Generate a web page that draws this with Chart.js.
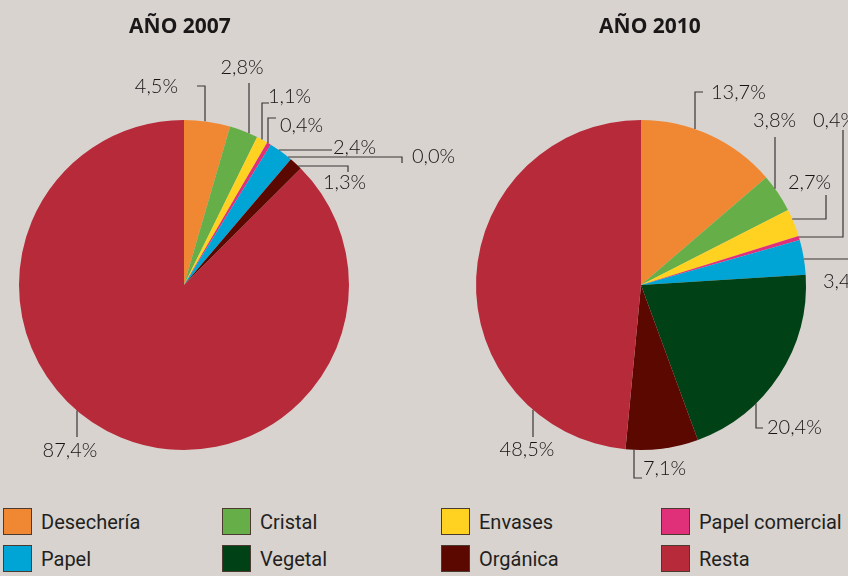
<!DOCTYPE html>
<html lang="es">
<head>
<meta charset="utf-8">
<script src="https://cdn.jsdelivr.net/npm/chart.js@4.4.1/dist/chart.umd.min.js"></script>
<style>
  html, body { margin: 0; padding: 0; background: #d8d3cf; }
  #wrap { position: relative; width: 848px; height: 576px; overflow: hidden; }
  #c2007 { position: absolute; left: 0; top: 0; }
  #c2010 { position: absolute; left: 420px; top: 0; }
  .item { position: absolute; height: 27px; display: flex; align-items: center;
          font: 20px 'Liberation Sans Narrow', 'Roboto', sans-serif; color: #231f20; }
  .box { width: 29px; height: 27px; box-sizing: border-box; border: 1px solid #4a3a30; margin-right: 9px; }
</style>
</head>
<body>
<div id="wrap">
  <canvas id="c2007" width="470" height="490"></canvas>
  <canvas id="c2010" width="428" height="490"></canvas>
  <div id="legend"></div>
</div>
<script>
// categories and values
const categories = ['Desechería', 'Cristal', 'Envases', 'Papel comercial', 'Papel', 'Vegetal', 'Orgánica', 'Resta'];
const values2007 = [4.5, 2.8, 1.1, 0.4, 2.4, 0.0, 1.3, 87.4];
const values2010 = [13.7, 3.8, 2.7, 0.4, 3.4, 20.4, 7.1, 48.5];
const colors = ['#f08833', '#66ae47', '#ffd121', '#e0307a', '#00a5d6', '#004116', '#5a0800', '#b72a3a'];

// leader lines: points relative to the pie centre, last segment runs to the rim ('v' or 'h')
const leaders2007 = [
  { path: [[13, -199], [21, -199]], edge: 'v', text: [-6, -198], align: 'right' },
  { path: [[65, -202]], edge: 'v', text: [58, -217], align: 'center' },
  { path: [[85, -182], [78, -182]], edge: 'v', text: [84, -188], align: 'left' },
  { path: [[92, -167], [84, -167]], edge: 'v', text: [96, -159], align: 'left' },
  { path: [[148, -135]], edge: 'h', text: [149, -137], align: 'left' },
  { path: [[218, -122], [218, -128]], edge: 'h', text: [228, -128], align: 'left' },
  { path: [[164, -113], [164, -119]], edge: 'h', text: [139, -102], align: 'left' },
  { path: [[-107, 152]], edge: 'v', text: [-114, 166], align: 'center' },
];
const leaders2010 = [
  { path: [[62, -193], [54, -193]], edge: 'v', text: [70, -192], align: 'left' },
  { path: [[134, -148]], edge: 'v', text: [112, -164], align: 'left' },
  { path: [[185, -90], [185, -66]], edge: 'h', text: [147, -102], align: 'left' },
  { path: [[202, -155], [202, -48]], edge: 'h', text: [172, -164], align: 'left' },
  { path: [[230, -26]], edge: 'h', text: [182, -3], align: 'left' },
  { path: [[122, 143], [115, 143]], edge: 'v', text: [126, 143], align: 'left' },
  { path: [[1, 193], [-7, 193]], edge: 'v', text: [2, 184], align: 'left' },
  { path: [[-108, 152]], edge: 'v', text: [-114, 165], align: 'center' },
];

const fmt = v => v.toFixed(1).replace('.', ',') + '%';

const leaderPlugin = {
  id: 'leaders',
  afterDraw(chart, args, opts) {
    const arcs = chart.getDatasetMeta(0).data;
    if (!arcs.length) return;
    const { x: cx, y: cy, outerRadius: r } = arcs[0];
    const ctx = chart.ctx;
    const vals = chart.data.datasets[0].data;
    ctx.save();

    // title above the pie
    ctx.fillStyle = '#1a1718';
    ctx.font = "bold 21px 'Open Sans', sans-serif";
    ctx.textAlign = 'center';
    ctx.textBaseline = 'middle';
    ctx.fillText(opts.title, cx + opts.titleDx, 27);

    ctx.strokeStyle = '#3a3636';
    ctx.lineWidth = 1.2;
    ctx.font = "300 20px 'Lato', sans-serif";
    ctx.fillStyle = '#161314';
    opts.layout.forEach((l, i) => {
      const last = l.path[l.path.length - 1];
      let ex, ey;
      if (l.edge === 'v') {
        ex = last[0];
        ey = Math.sign(last[1]) * Math.sqrt(Math.max(r * r - ex * ex, 0));
      } else {
        ey = last[1];
        ex = Math.sign(last[0]) * Math.sqrt(Math.max(r * r - ey * ey, 0));
      }
      ctx.beginPath();
      ctx.moveTo(cx + l.path[0][0], cy + l.path[0][1]);
      l.path.slice(1).forEach(p => ctx.lineTo(cx + p[0], cy + p[1]));
      ctx.lineTo(cx + ex, cy + ey);
      ctx.stroke();
      ctx.textAlign = l.align;
      ctx.fillText(fmt(vals[i]), cx + l.text[0], cy + l.text[1]);
    });
    ctx.restore();
  }
};

function makePie(id, values, pad, title, titleDx, layout) {
  return new Chart(document.getElementById(id), {
    type: 'pie',
    data: {
      labels: categories,
      datasets: [{
        data: values,
        backgroundColor: colors,
        borderWidth: 0,
        hoverOffset: 0,
      }],
    },
    options: {
      responsive: false,
      animation: false,
      layout: { padding: pad },
      events: [],
      plugins: {
        legend: { display: false },
        tooltip: { enabled: false },
        leaders: { title, titleDx, layout },
      },
    },
    plugins: [leaderPlugin],
  });
}

makePie('c2007', values2007, { left: 19, top: 120, right: 121, bottom: 40 }, 'AÑO 2007', -4, leaders2007);
makePie('c2010', values2010, { left: 56, top: 120, right: 42, bottom: 40 }, 'AÑO 2010', 9, leaders2010);

// shared legend below both pies
const legendCols = [3, 222, 441, 661];
const legendRows = [508, 545];
const legend = document.getElementById('legend');
categories.forEach((c, i) => {
  const el = document.createElement('div');
  el.className = 'item';
  el.style.left = legendCols[i % 4] + 'px';
  el.style.top = legendRows[Math.floor(i / 4)] + 'px';
  el.innerHTML = '<span class="box" style="background:' + colors[i] + '"></span><span>' + c + '</span>';
  legend.appendChild(el);
});
</script>
</body>
</html>
